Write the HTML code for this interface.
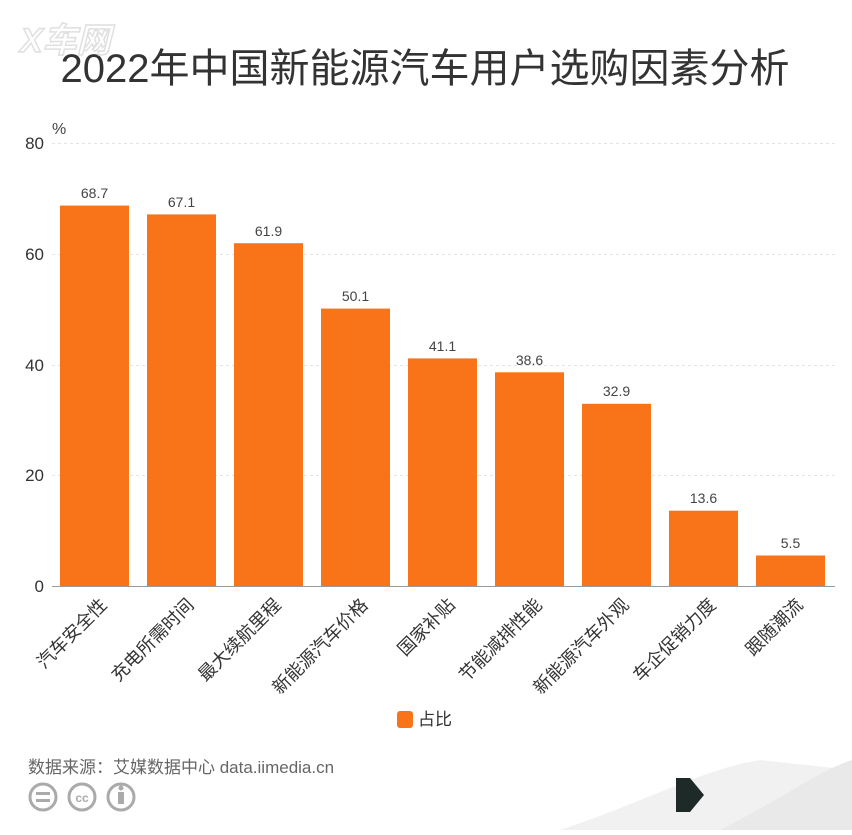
<!DOCTYPE html>
<html><head><meta charset="utf-8"><style>
body{margin:0;background:#fff;}
</style></head><body>
<svg width="852" height="830" xmlns="http://www.w3.org/2000/svg" font-family="'Liberation Sans','Noto Sans CJK SC',sans-serif">
<rect width="852" height="830" fill="#fff"/>
<path d="M560 830 C650 800 700 770 760 760 L852 770 L852 830 Z" fill="#f1f1f1"/>
<path d="M720 830 C780 800 820 770 852 760 L852 830 Z" fill="#e9e9e9"/>
<text x="425" y="82" font-size="40" fill="#333" text-anchor="middle">2022年中国新能源汽车用户选购因素分析</text>
<text x="20" y="52" font-size="34" font-weight="bold" fill="#fff" stroke="#ddd" stroke-width="1.5" font-style="italic" opacity="0.9">X车网</text>
<text x="52" y="134" font-size="16" fill="#444">%</text>
<g font-size="17" fill="#333" text-anchor="end">
<text x="44" y="149">80</text><text x="44" y="260">60</text><text x="44" y="371">40</text><text x="44" y="481">20</text><text x="44" y="592">0</text>
</g>
<g stroke="#e3e3e3" stroke-dasharray="3,3">
<line x1="52" y1="143.5" x2="835" y2="143.5"/><line x1="52" y1="254.5" x2="835" y2="254.5"/><line x1="52" y1="365.5" x2="835" y2="365.5"/><line x1="52" y1="475.5" x2="835" y2="475.5"/>
</g>
<line x1="52" y1="586.5" x2="835" y2="586.5" stroke="#999"/>
<g fill="#f97318">
<rect x="60" y="205.6" width="69" height="380.4"/>
<rect x="147" y="214.4" width="69" height="371.6"/>
<rect x="234" y="243.2" width="69" height="342.8"/>
<rect x="321" y="308.6" width="69" height="277.4"/>
<rect x="408" y="358.4" width="69" height="227.6"/>
<rect x="495" y="372.3" width="69" height="213.7"/>
<rect x="582" y="403.8" width="69" height="182.2"/>
<rect x="669" y="510.7" width="69" height="75.3"/>
<rect x="756" y="555.5" width="69" height="30.5"/>
</g>
<g font-size="14" fill="#444" text-anchor="middle">
<text x="94.5" y="198">68.7</text><text x="181.5" y="207">67.1</text><text x="268.5" y="236">61.9</text><text x="355.5" y="301">50.1</text><text x="442.5" y="351">41.1</text><text x="529.5" y="365">38.6</text><text x="616.5" y="396">32.9</text><text x="703.5" y="503">13.6</text><text x="790.5" y="548">5.5</text>
</g>
<g font-size="18" fill="#333" text-anchor="end">
<text transform="translate(108,606) rotate(-45)">汽车安全性</text>
<text transform="translate(195,606) rotate(-45)">充电所需时间</text>
<text transform="translate(282,606) rotate(-45)">最大续航里程</text>
<text transform="translate(369,606) rotate(-45)">新能源汽车价格</text>
<text transform="translate(456,606) rotate(-45)">国家补贴</text>
<text transform="translate(543,606) rotate(-45)">节能减排性能</text>
<text transform="translate(630,606) rotate(-45)">新能源汽车外观</text>
<text transform="translate(717,606) rotate(-45)">车企促销力度</text>
<text transform="translate(804,606) rotate(-45)">跟随潮流</text>
</g>
<rect x="397" y="711" width="16" height="17" rx="3" fill="#f97318"/>
<text x="418" y="725" font-size="17" fill="#333">占比</text>
<text x="28" y="773" font-size="17" fill="#666">数据来源：艾媒数据中心 data.iimedia.cn</text>
<g fill="none" stroke="#aaa" stroke-width="3">
<circle cx="43" cy="797" r="13"/><circle cx="82" cy="797" r="13"/><circle cx="121" cy="797" r="13"/>
</g>
<g fill="#aaa"><rect x="36" y="792" width="14" height="3"/><rect x="36" y="799" width="14" height="3"/>
<circle cx="121" cy="788" r="2.5"/><rect x="118" y="792" width="6" height="12"/></g>
<text x="82" y="802" font-size="12" font-weight="bold" fill="#aaa" text-anchor="middle">cc</text>
<path d="M676 778 L690 778 L704 795 L690 812 L676 812 Z" fill="#1e2a28"/>
</svg>
</body></html>
